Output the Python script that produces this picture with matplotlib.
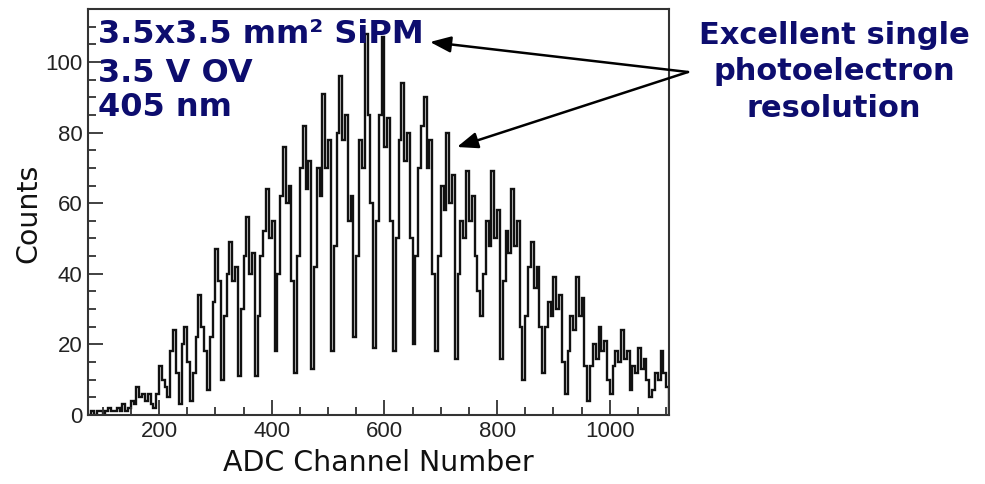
import numpy as np
import matplotlib
matplotlib.use("Agg")
import matplotlib.pyplot as plt
from matplotlib.ticker import MultipleLocator

# ---- data (counts per 5-channel ADC bin) ----
channel_start = 75
bin_width = 5
counts = [
    0, 1, 0, 1, 1, 0, 1, 2, 1, 1,
    2, 1, 3, 1, 2, 4, 3, 8, 5, 6,
    4, 6, 3, 2, 6, 14, 10, 8, 5, 18,
    24, 12, 3, 20, 25, 15, 4, 12, 22, 34,
    25, 18, 7, 22, 32, 47, 38, 10, 28, 40,
    49, 38, 42, 11, 30, 45, 56, 40, 46, 11,
    28, 45, 52, 64, 50, 55, 18, 40, 62, 76,
    60, 65, 38, 12, 45, 70, 82, 64, 72, 13,
    42, 70, 62, 91, 70, 78, 18, 48, 80, 96,
    78, 85, 55, 62, 22, 45, 78, 70, 108, 85,
    60, 19, 55, 85, 107, 76, 84, 55, 18, 50,
    78, 94, 72, 80, 50, 20, 45, 70, 82, 90,
    70, 78, 40, 18, 45, 65, 58, 80, 60, 68,
    16, 40, 55, 50, 69, 55, 62, 45, 35, 28,
    40, 55, 48, 69, 50, 58, 16, 38, 52, 46,
    64, 48, 55, 25, 10, 28, 42, 49, 36, 42,
    25, 12, 25, 32, 28, 39, 30, 34, 15, 6,
    18, 28, 24, 39, 28, 33, 14, 4, 14, 20,
    16, 25, 18, 21, 10, 6, 14, 18, 15, 24,
    16, 18, 7, 14, 12, 19, 13, 16, 10, 5,
    7, 12, 10, 18, 12, 8,
]
x_ticks = [200, 400, 600, 800, 1000]
y_ticks = [0, 20, 40, 60, 80, 100]
x_label = "ADC Channel Number"
y_label = "Counts"
left_lines = ["3.5x3.5 mm² SiPM", "3.5 V OV", "405 nm"]
right_lines = ["Excellent single", "photoelectron", "resolution"]

edges = channel_start + bin_width * np.arange(len(counts) + 1)

W, H = 985, 484
fig = plt.figure(figsize=(W / 100, H / 100), dpi=100)
ax = fig.add_axes([88 / W, 1 - 415 / H, (669 - 88) / W, (415 - 9) / H])

ax.stairs(counts, edges, color="#111111", lw=1.7)

ax.set_xlim(74, 1105)
ax.set_ylim(0, 115)
ax.set_xticks(x_ticks)
ax.set_yticks(y_ticks)
ax.xaxis.set_minor_locator(MultipleLocator(50))
ax.yaxis.set_minor_locator(MultipleLocator(5))
ax.tick_params(which="both", direction="in", top=False, right=False,
               color="#333333", width=1.3)
ax.tick_params(which="major", length=11, labelsize=16, labelcolor="#222222", pad=4)
ax.tick_params(which="minor", length=6)
for lab in ax.get_xticklabels() + ax.get_yticklabels():
    lab.set_family("Liberation Sans")
for s in ax.spines.values():
    s.set_color("#333333")
    s.set_linewidth(1.5)

fig.text(378 / W, 1 - 463 / H, x_label, ha="center", va="center",
         fontsize=20.5, family="DejaVu Sans", color="#111111")
fig.text(28 / W, 1 - 213 / H, y_label, ha="center", va="center", rotation=90,
         fontsize=20.5, family="DejaVu Sans", color="#111111")

navy = "#0d0d6e"
for line, yb in zip(left_lines, [43, 82, 116]):
    fig.text(98 / W, 1 - yb / H, line, ha="left", va="baseline", fontsize=23,
             fontweight="bold", family="DejaVu Sans", color=navy)
for line, yb in zip(right_lines, [44, 80, 117]):
    fig.text(834 / W, 1 - yb / H, line, ha="center", va="baseline", fontsize=22,
             fontweight="bold", family="DejaVu Sans", color=navy)

for tip in [(430, 42), (457, 147)]:
    ax.annotate("", xy=(tip[0], H - tip[1]), xycoords="figure pixels",
                xytext=(688, H - 72), textcoords="figure pixels",
                arrowprops=dict(arrowstyle="-|>,head_length=0.9,head_width=0.35",
                                color="black", lw=1.8, mutation_scale=14,
                                shrinkA=0, shrinkB=0),
                annotation_clip=False)

fig.savefig("out.png", dpi=100)
